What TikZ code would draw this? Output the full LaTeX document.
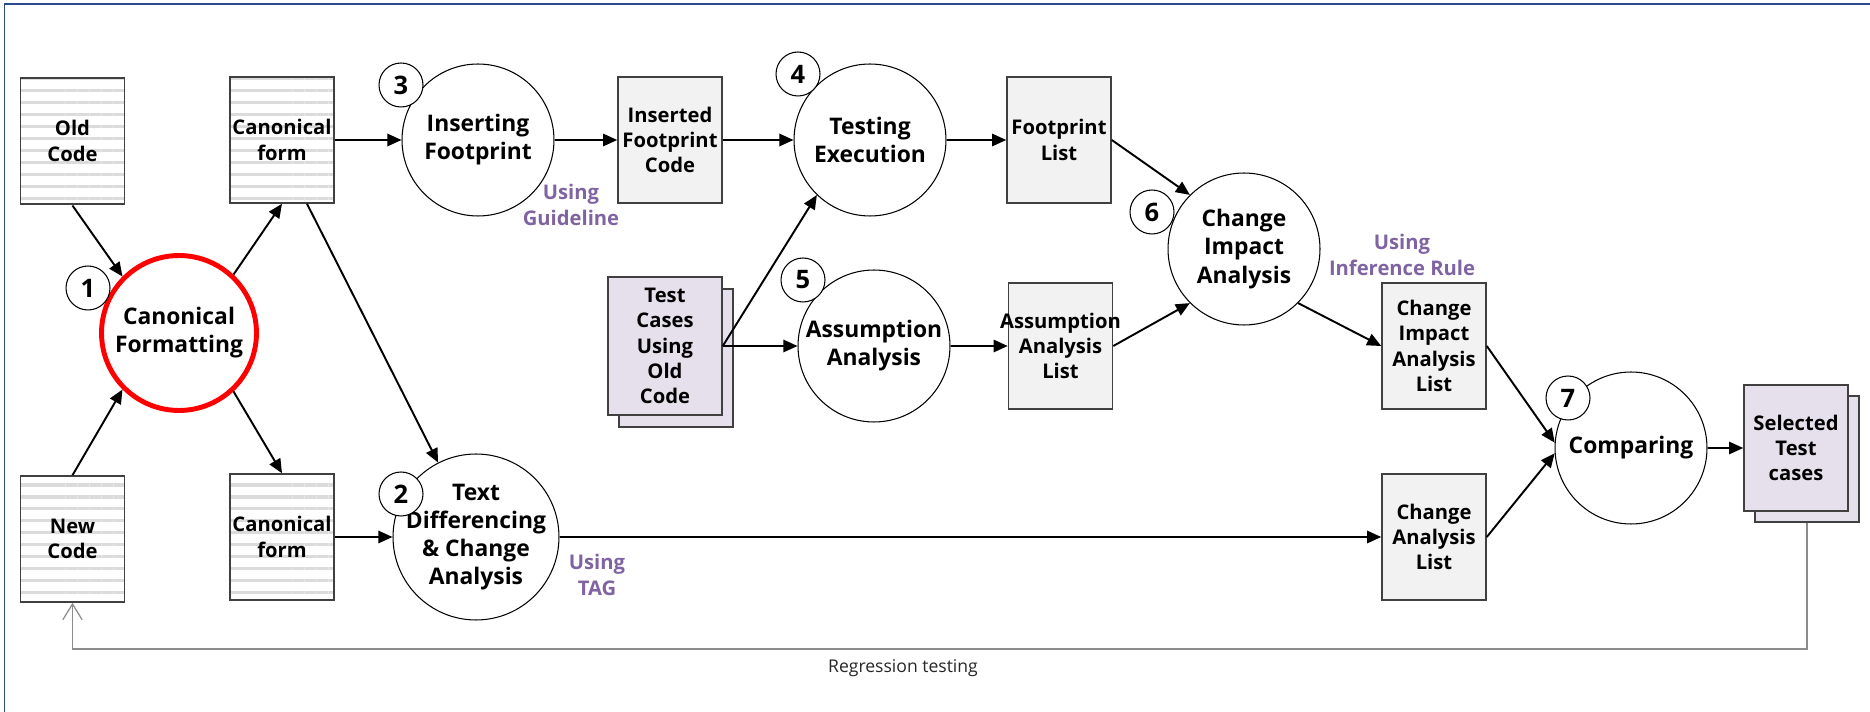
\documentclass[tikz,border=0pt]{standalone}
\usepackage{fontspec}
\setmainfont{Open Sans}
\usetikzlibrary{arrows.meta,patterns.meta}

\definecolor{usingpurple}{HTML}{8064A2}
\definecolor{listgray}{HTML}{F2F2F2}
\definecolor{caselilac}{HTML}{E5E0EC}
\definecolor{framenavy}{HTML}{2B4A8C}

\newcommand{\boxfont}{\fontsize{11.5}{14.4}\selectfont\bfseries}
\newcommand{\procfont}{\fontsize{13}{16}\selectfont\bfseries}

\tikzset{
    >={Triangle[length=8pt,width=7pt]},
    flow/.style={->, line width=1.1pt},
    proc/.style={circle, draw, line width=0.6pt, fill=white, minimum size=3.04cm,
        inner sep=0pt, align=center, font=\procfont},
    store/.style={rectangle, draw=black!75, line width=0.9pt, fill=listgray,
        minimum width=2.08cm, minimum height=2.52cm, inner sep=0pt, align=center, font=\boxfont},
    srcfile/.style={rectangle, draw=black!75, line width=0.9pt,
        minimum width=2.08cm, minimum height=2.52cm, inner sep=0pt, align=center, font=\boxfont,
        preaction={fill=white}, pattern={Lines[angle=0,distance=6.8pt,line width=1.8pt]},
        pattern color=black!14},
    stack/.style={store, fill=caselilac},
    tag/.style={circle, draw, line width=0.6pt, fill=white, minimum size=0.88cm,
        inner sep=0pt, font=\fontsize{14.5}{16}\selectfont\bfseries},
    note/.style={text=usingpurple, align=center, font=\boxfont},
    regline/.style={-{Straight Barb[length=9pt,width=11pt]}, line width=0.7pt, black!45}
}

\begin{document}
\begin{tikzpicture}[x=0.02cm, y=-0.02cm]
    \useasboundingbox (0,0) rectangle (1870,712);

    % frame
    \draw[framenavy, line width=0.9pt] (4.5,712) -- (4.5,4) -- (1870,4);

    % source code and canonical forms
    \node[srcfile] (oldcode) at (72.5,141) {Old\\Code};
    \node[srcfile] (newcode) at (72.5,539) {New\\Code};
    \node[proc, draw=red, line width=2.8pt, minimum size=3.1cm] (canon) at (179,333) {Canonical\\Formatting};
    \node[srcfile] (formA) at (282,140) {Canonical\\form};
    \node[srcfile] (formB) at (282,537) {Canonical\\form};

    % processes
    \node[proc] (insert) at (478,140) {Inserting\\Footprint};
    \node[proc, minimum size=3.32cm, inner sep=-4pt] (diff) at (476,537) {Text\\Differencing\\\& Change\\Analysis};
    \node[proc] (testing) at (870,140) {Testing\\Execution};
    \node[proc] (assume) at (874,346) {Assumption\\Analysis};
    \node[proc] (impact) at (1244,249) {Change\\Impact\\Analysis};
    \node[proc] (compare) at (1631,448) {Comparing};

    % data stores
    \node[store] (inserted) at (670,140) {Inserted\\Footprint\\Code};
    \node[store] (fplist) at (1059,140) {Footprint\\List};
    \node[store] (aslist) at (1060.5,346) {\makebox[0pt][c]{Assumption}\\Analysis\\List};
    \node[store] (cialist) at (1434,346) {Change\\Impact\\Analysis\\List};
    \node[store] (calist) at (1434,537) {Change\\Analysis\\List};

    % test case stacks
    \node[stack, minimum width=2.28cm, minimum height=2.76cm] (tcback) at (676,358) {};
    \node[stack, minimum width=2.28cm, minimum height=2.76cm] (testcases) at (665,346) {Test\\Cases\\Using\\Old\\Code};
    \node[stack] (selback) at (1807,459) {};
    \node[stack] (selected) at (1796,448) {Selected\\Test\\cases};

    % step numbers
    \node[tag] (t1) at (88,288) {1};
    \node[tag] (t2) at (401,494) {2};
    \node[tag] (t3) at (401,85) {3};
    \node[tag] (t4) at (798,74) {4};
    \node[tag] (t5) at (803,280) {5};
    \node[tag] (t6) at (1152,212) {6};
    \node[tag] (t7) at (1568,398) {7};

    % notes
    \node[note] (useguide) at (571,205) {Using\\Guideline};
    \node[note] (usetag) at (597,575) {Using\\TAG};
    \node[note] (userule) at (1402,255) {Using\\Inference Rule};

    % flows
    \draw[flow] (oldcode.south) -- (canon.135);
    \draw[flow] (newcode.north) -- (canon.225);
    \draw[flow] (canon.47) -- (formA.south);
    \draw[flow] (canon.313) -- (formB.north);
    \draw[flow] (formA.east) -- (insert.west);
    \draw[flow] (formB.east) -- (diff.west);
    \draw[flow] ([xshift=0.5cm]formA.south) -- (diff.117);
    \draw[flow] (diff.east) -- (calist.west);
    \draw[flow] (insert.east) -- (inserted.west);
    \draw[flow] (inserted.east) -- (testing.west);
    \draw[flow] (testing.east) -- (fplist.west);
    \draw[flow] (testcases.east) -- (testing.226);
    \draw[flow] (testcases.east) -- (assume.west);
    \draw[flow] (assume.east) -- (aslist.west);
    \draw[flow] (fplist.east) -- (impact.135);
    \draw[flow] (aslist.east) -- (impact.225);
    \draw[flow] (impact.315) -- (cialist.west);
    \draw[flow] (cialist.east) -- (compare.176);
    \draw[flow] (calist.east) -- (compare.184);
    \draw[flow] (compare.east) -- (selected.west);

    % regression loop back to the new code
    \coordinate (regbase) at (0,649);
    \draw[regline] (selback.south) -- (selback.south |- regbase) -- (newcode.south |- regbase) -- (newcode.south);
    \node[font=\fontsize{10}{12}\selectfont, text=black!85] (regtext) at (903,668) {Regression testing};
\end{tikzpicture}
\end{document}
